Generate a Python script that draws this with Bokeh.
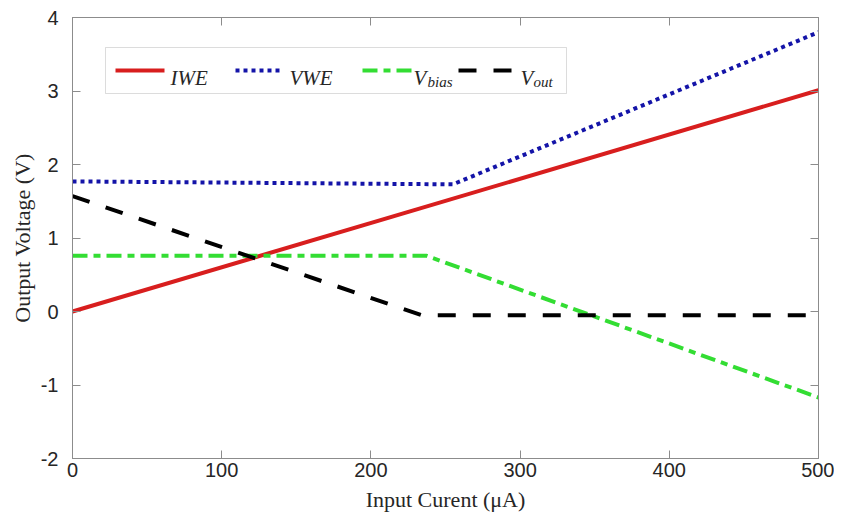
from bokeh.plotting import figure
from bokeh.models import Range1d, FixedTicker, BoxAnnotation, Arrow, Label, LinearAxis
from bokeh.embed import file_html
from bokeh.resources import INLINE

# ---- data ----
x_iwe = [0, 500]
iwe = [0.0, 3.01]

x_vwe = [0, 255, 500]
vwe = [1.77, 1.73, 3.80]

x_vbias = [0, 237, 500]
vbias = [0.76, 0.76, -1.17]

x_vout = [0, 234, 500]
vout = [1.57, -0.05, -0.05]

x_ticks = [0, 100, 200, 300, 400, 500]
y_ticks = [-2, -1, 0, 1, 2, 3, 4]
y_tick_labels = ["-2", "-1", "0", "1", "2", "3", "4"]

RED = "#d81e1e"
BLUE = "#1414a8"
GREEN = "#33dd33"
BLACK = "#000000"
GRAY = "#8c8c8c"

W, H = 834, 514
BL, BR, BT, BB = 72, 16, 17, 56

p = figure(width=W, height=H, output_backend="svg", toolbar_location=None,
           x_range=Range1d(0, 500), y_range=Range1d(-2, 4))
p.min_border_left = BL
p.min_border_right = BR
p.min_border_top = BT
p.min_border_bottom = BB
p.grid.visible = False
p.outline_line_color = GRAY
p.outline_line_width = 1
p.background_fill_color = "white"
p.border_fill_color = "white"

for ax in (p.xaxis[0], p.yaxis[0]):
    ax.axis_line_color = GRAY
    ax.major_tick_line_color = GRAY
    ax.minor_tick_line_color = None
    ax.major_tick_in = 8
    ax.major_tick_out = 0
    ax.major_label_text_font = "Liberation Sans"
    ax.major_label_text_font_size = "20px"
    ax.major_label_text_color = "#262626"
    ax.axis_label_text_font = "Liberation Serif"
    ax.axis_label_text_font_size = "22px"
    ax.axis_label_text_font_style = "normal"
    ax.axis_label_text_color = "#262626"

p.xaxis[0].ticker = FixedTicker(ticks=x_ticks)
p.yaxis[0].ticker = FixedTicker(ticks=y_ticks)
p.yaxis[0].major_label_overrides = {t: s for t, s in zip(y_ticks, y_tick_labels)}
p.xaxis[0].major_label_standoff = 4
p.yaxis[0].major_label_standoff = 14
p.xaxis[0].axis_label_standoff = 7
p.yaxis[0].axis_label_standoff = 3
p.xaxis[0].axis_label = "Input Curent (\u03bcA)"
p.yaxis[0].axis_label = "Output Voltage (V)"

# mirrored inward ticks on the top and right edges (box on)
for place, ticks in (("above", x_ticks), ("right", y_ticks)):
    mirror = LinearAxis(ticker=FixedTicker(ticks=ticks),
                        major_label_overrides={t: "" for t in ticks},
                        major_label_text_font_size="1px", major_label_standoff=0,
                        axis_line_color=GRAY, major_tick_line_color=GRAY,
                        minor_tick_line_color=None, major_tick_in=8, major_tick_out=0)
    p.add_layout(mirror, place)

# ---- series ----
p.line(x_iwe, iwe, line_color=RED, line_width=4)
p.line(x_vwe, vwe, line_color=BLUE, line_width=4, line_dash="4 4")
p.line(x_vbias, vbias, line_color=GREEN, line_width=4, line_dash="15 6 7 6")
p.line(x_vout, vout, line_color=BLACK, line_width=4, line_dash="18 17")

# ---- custom legend (placed via the fixed frame geometry) ----
FW = W - BL - BR
FH = H - BT - BB

def px_x(px):
    return (px - BL) / FW * 500.0

def px_y(py):
    return 4.0 - (py - BT) / FH * 6.0

p.add_layout(BoxAnnotation(left=px_x(105), right=px_x(566), top=px_y(47), bottom=px_y(93),
                           fill_color="white", fill_alpha=1.0, line_color=GRAY, line_width=1))

ly = px_y(70)
samples = [
    (115, 164, RED, "solid"),
    (235, 280, BLUE, "4 4"),
    (362, 412, GREEN, "15 6 7 6"),
    (458, 520, BLACK, "18 17"),
]
for a, b, c, d in samples:
    p.add_layout(Arrow(x_start=px_x(a), y_start=ly, x_end=px_x(b), y_end=ly, end=None,
                       line_color=c, line_width=4, line_dash=d))

main_texts = [(170, "IWE"), (289, "VWE"), (413, "V"), (520, "V")]
for xp, t in main_texts:
    p.add_layout(Label(x=px_x(xp), y=px_y(77), text=t, text_font="Liberation Serif",
                       text_font_style="italic", text_font_size="21px",
                       text_color="#262626", text_baseline="alphabetic"))
sub_texts = [(427, "bias"), (533, "out")]
for xp, t in sub_texts:
    p.add_layout(Label(x=px_x(xp), y=px_y(81), text=t, text_font="Liberation Serif",
                       text_font_style="italic", text_font_size="15px",
                       text_color="#262626", text_baseline="alphabetic"))

open("out.html", "w").write(file_html(p, INLINE))
